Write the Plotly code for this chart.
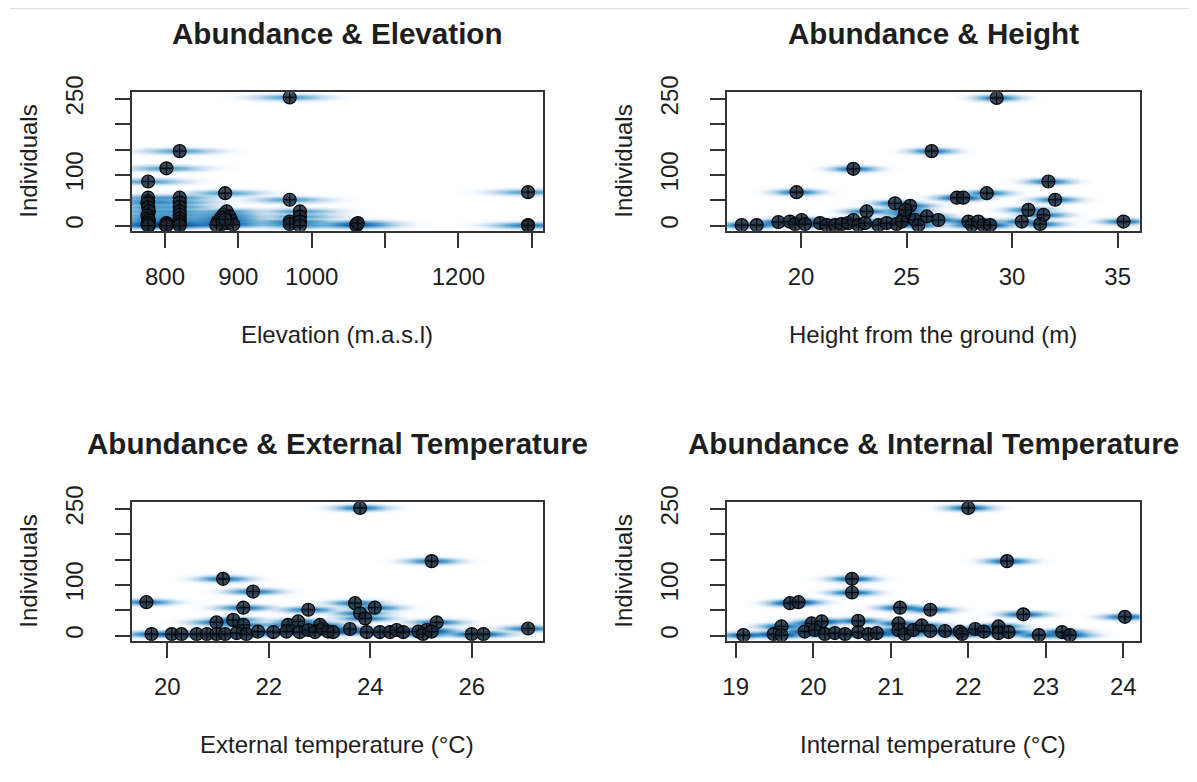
import numpy as np
import plotly.graph_objects as go

# ---------------- data ----------------
elev_x = [777, 777, 777, 776, 777, 778, 776, 777, 778, 777, 776, 778, 777,
          802, 802, 803, 801, 802, 802,
          820, 820, 820, 820, 820, 820, 820, 820, 820, 820,
          882, 872, 876, 880, 884, 888, 878, 885, 890, 893, 870, 882,
          970, 970, 970, 970,
          984, 984, 984, 984,
          1061, 1061, 1061, 1063,
          1295, 1295, 1295]
elev_y = [87, 55, 48, 44, 36, 28, 20, 14, 10, 6, 3, 0, 0,
          113, 5, 3, 1, 0, 0,
          147, 55, 46, 37, 28, 21, 14, 8, 3, 0,
          64, 8, 15, 22, 28, 18, 3, 5, 10, 2, 1, 12,
          253, 51, 8, 3,
          28, 18, 8, 0,
          3, 1, 0, 5,
          66, 1, 0]

height_x = [29.27, 26.19, 22.48, 19.79, 31.72, 32.04, 28.80, 27.38, 27.69, 24.45,
            25.17, 23.11, 24.93, 24.85, 30.77, 31.49, 30.46, 31.33, 35.28, 17.19,
            17.90, 18.93, 19.48, 19.72, 20.03, 20.19, 20.90, 21.22, 21.61, 21.93,
            22.24, 22.48, 22.72, 23.03, 23.67, 24.06, 24.53, 24.77, 25.40, 25.56,
            25.96, 26.51, 27.93, 28.09, 28.40, 28.64, 28.96, 24.95]
height_y = [252, 147, 112, 66, 87, 51, 64, 55, 55, 44,
            39, 28, 24, 14, 31, 21, 8, 3, 8, 1,
            1, 7, 8, 3, 11, 3, 5, 1, 1, 3,
            5, 11, 1, 5, 1, 5, 3, 8, 11, 1,
            18, 11, 8, 1, 8, 1, 1, 31]

ext_x = [23.80, 25.21, 21.10, 21.69, 19.59, 21.50, 22.78, 23.70, 24.09, 23.80,
         23.90, 20.97, 21.30, 21.50, 22.38, 22.58, 23.01, 23.60, 25.31, 25.11,
         27.11, 19.69, 20.09, 20.28, 20.58, 20.78, 20.97, 21.14, 21.37, 21.56,
         21.79, 22.09, 22.35, 22.61, 22.78, 22.91, 23.07, 23.17, 23.27, 23.93,
         24.19, 24.39, 24.52, 24.65, 24.95, 25.04, 25.21, 26.00, 26.23]
ext_y = [252, 147, 112, 87, 66, 55, 51, 64, 55, 44,
         34, 26, 31, 21, 21, 28, 21, 13, 26, 11,
         14, 3, 3, 3, 3, 3, 3, 3, 5, 3,
         8, 7, 8, 7, 11, 7, 14, 8, 7, 7,
         7, 7, 11, 7, 8, 3, 8, 3, 3]

int_x = [22.00, 22.50, 20.50, 20.50, 19.70, 19.81, 21.12, 21.51, 22.71, 24.02,
         19.10, 19.59, 19.49, 19.59, 19.98, 20.11, 19.89, 20.02, 20.15, 20.28,
         20.41, 20.58, 20.58, 20.71, 20.82, 21.10, 21.10, 21.18, 21.29, 21.40,
         21.51, 21.70, 21.89, 21.92, 22.09, 22.20, 22.39, 22.39, 22.52, 22.91,
         23.21, 23.31]
int_y = [252, 147, 112, 85, 64, 66, 55, 51, 42, 37,
         1, 18, 3, 1, 24, 28, 8, 11, 3, 5,
         3, 29, 7, 3, 5, 24, 11, 3, 11, 20,
         9, 9, 8, 3, 13, 8, 18, 5, 7, 1,
         7, 1]

y_ticks = [0, 50, 100, 150, 200, 250]
y_ticklabels = ["0", "", "100", "", "", "250"]

elev_ticks = [800, 900, 1000, 1100, 1200, 1300]
elev_ticklabels = ["800", "900", "1000", "", "1200", ""]
height_ticks = [20, 25, 30, 35]
height_ticklabels = ["20", "25", "30", "35"]
ext_ticks = [20, 22, 24, 26]
ext_ticklabels = ["20", "22", "24", "26"]
int_ticks = [19, 20, 21, 22, 23, 24]
int_ticklabels = ["19", "20", "21", "22", "23", "24"]

titles = ["Abundance & Elevation", "Abundance & Height",
          "Abundance & External Temperature", "Abundance & Internal Temperature"]
x_titles = ["Elevation (m.a.s.l)", "Height from the ground (m)",
            "External temperature (°C)", "Internal temperature (°C)"]
y_title = "Individuals"

# ---------------- layout / style ----------------
OFF = 8                      # page body margin
W, H = 1197 - OFF, 782 - OFF


def fx(p):
    return (p - OFF) / W


def fy(p):
    return 1 - (p - OFF) / H


FONT = "Liberation Sans, Arial, Helvetica, sans-serif"
TXT = "#1e1e1e"
AX = "#333333"

# target pixel boxes of the four plot regions (left, right, top, bottom)
boxes = [(131.7, 543.3, 92.3, 230.7), (726.7, 1140.0, 92.3, 230.7),
         (131.7, 543.3, 502.3, 640.7), (726.7, 1140.0, 502.3, 640.7)]
x_ranges = [[754.6, 1315.8], [16.48, 36.06], [19.30, 27.41], [18.884, 24.215]]
y_range = [-10.1, 263.1]
x_bw = [21.0, 0.46, 0.22, 0.125]   # smoothing bandwidth (x units)
y_bw = 2.6

blues9 = ["#F7FBFF", "#DEEBF7", "#C6DBEF", "#9ECAE1", "#6BAED6",
          "#4292C6", "#2171B5", "#08519C", "#08306B"]
ramp = ["#FFFFFF"] + blues9
colorscale = [[i / (len(ramp) - 1), c] for i, c in enumerate(ramp)]

panels = [
    (elev_x, elev_y, elev_ticks, elev_ticklabels),
    (height_x, height_y, height_ticks, height_ticklabels),
    (ext_x, ext_y, ext_ticks, ext_ticklabels),
    (int_x, int_y, int_ticks, int_ticklabels),
]

fig = go.Figure()
layout = dict(width=W, height=H, margin=dict(l=0, r=0, t=0, b=0, pad=0, autoexpand=False),
              paper_bgcolor="white", plot_bgcolor="white", showlegend=False,
              font=dict(family=FONT, color=TXT))
annotations = []

for k, ((xs, ys, tv, tt), (l, r, t, b), xr, bx) in enumerate(
        zip(panels, boxes, x_ranges, x_bw), start=1):
    xs = np.asarray(xs, float)
    ys = np.asarray(ys, float)
    gx = np.linspace(xr[0], xr[1], 320)
    gy = np.linspace(y_range[0], y_range[1], 320)
    kx = np.exp(-0.5 * ((gx[None, :] - xs[:, None]) / bx) ** 2)
    ky = np.exp(-0.5 * ((gy[None, :] - ys[:, None]) / y_bw) ** 2)
    dens = ky.T @ kx
    z = dens ** 0.25
    z = z / z.max()

    sfx = "" if k == 1 else str(k)
    fig.add_trace(go.Heatmap(x=gx, y=gy, z=z, colorscale=colorscale, zmin=0, zmax=1,
                             showscale=False, zsmooth="best", hoverinfo="skip",
                             xaxis="x" + sfx, yaxis="y" + sfx))
    fig.add_trace(go.Scatter(x=xs, y=ys, mode="markers", xaxis="x" + sfx, yaxis="y" + sfx,
                             marker=dict(symbol="circle-cross", size=13,
                                         color="rgba(28,42,58,0.82)",
                                         line=dict(color="#080808", width=1.2)),
                             hoverinfo="skip"))

    common = dict(showgrid=False, zeroline=False, showline=True, linecolor=AX,
                  linewidth=2, mirror=True, ticks="outside", ticklen=15,
                  tickwidth=2, tickcolor=AX, automargin=False,
                  tickfont=dict(family=FONT, size=24, color=TXT))
    layout["xaxis" + sfx] = dict(common, domain=[fx(l), fx(r)], anchor="y" + sfx,
                                 range=xr, tickmode="array", tickvals=tv, ticktext=tt,
                                 ticklabelstandoff=8)
    layout["yaxis" + sfx] = dict(common, domain=[fy(b), fy(t)], anchor="x" + sfx,
                                 range=y_range, tickmode="array", tickvals=y_ticks,
                                 ticktext=y_ticklabels, tickangle=-90,
                                 ticklabelstandoff=22)

    cx = (l + r) / 2
    cy = (t + b) / 2
    annotations.append(dict(text="<b>" + titles[k - 1] + "</b>", x=fx(cx), y=fy(t - 59),
                            xref="paper", yref="paper", xanchor="center", yanchor="middle",
                            showarrow=False, font=dict(size=29.6, family=FONT, color=TXT)))
    annotations.append(dict(text=x_titles[k - 1], x=fx(cx), y=fy(b + 104),
                            xref="paper", yref="paper", xanchor="center", yanchor="middle",
                            showarrow=False, font=dict(size=24, family=FONT, color=TXT)))
    annotations.append(dict(text=y_title, x=fx(l - 103.5), y=fy(cy),
                            xref="paper", yref="paper", xanchor="center", yanchor="middle",
                            textangle=-90, showarrow=False,
                            font=dict(size=24, family=FONT, color=TXT)))

layout["annotations"] = annotations
layout["shapes"] = [dict(type="line", xref="paper", yref="paper",
                         x0=fx(10), x1=1, y0=1 - 0.5 / H, y1=1 - 0.5 / H,
                         line=dict(color="#dddddd", width=1))]
fig.update_layout(**layout)
fig.write_html("out.html")
